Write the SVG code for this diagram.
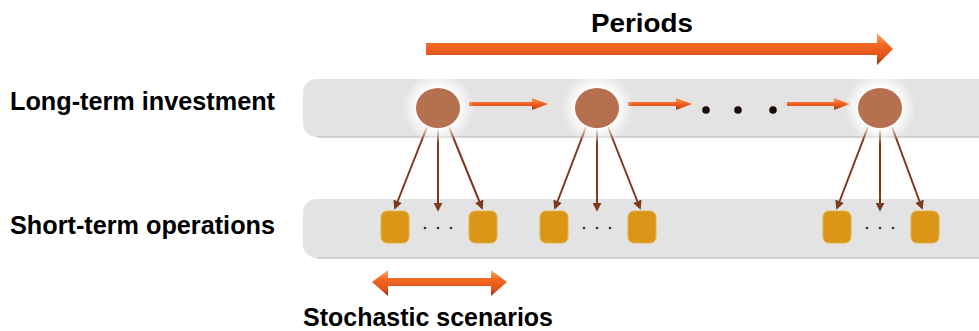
<svg xmlns="http://www.w3.org/2000/svg" width="979" height="331" viewBox="0 0 979 331">
<defs>
<style>
.lbl{font-family:"Liberation Sans",Arial,sans-serif;font-weight:bold;fill:#000}
.band{fill:#e3e3e3}
.bandedge{fill:none;stroke:#c6c6c6;stroke-width:1.5}
.inv{fill:#b5704f}
.op{fill:#d99617;stroke:#e8b14a;stroke-width:1}
.down{stroke:#7b3b1c;stroke-width:2;fill:none;marker-end:url(#mdown)}
.flow{fill:url(#gflow)}
.dot{fill:#1a0a05}
.sdot{fill:#333}
</style>
<marker id="mdown" viewBox="0 0 10 10" refX="8" refY="5" markerWidth="4.5" markerHeight="4.5" orient="auto" markerUnits="strokeWidth">
<path d="M0,0 L10,5 L0,10 z" fill="#7b3b1c"/>
</marker>
<linearGradient id="gbig" x1="0" y1="0" x2="0" y2="1">
<stop offset="0" stop-color="#ffb070"/>
<stop offset="0.35" stop-color="#f26a22"/>
<stop offset="0.75" stop-color="#e0521a"/>
<stop offset="1" stop-color="#8a2e08"/>
</linearGradient>
<linearGradient id="gflow" x1="0" y1="0" x2="0" y2="1">
<stop offset="0" stop-color="#ff9a5a"/>
<stop offset="0.5" stop-color="#f0601e"/>
<stop offset="1" stop-color="#b23a0c"/>
</linearGradient>
<radialGradient id="glow">
<stop offset="0.55" stop-color="#ffffff" stop-opacity="1"/>
<stop offset="1" stop-color="#ffffff" stop-opacity="0"/>
</radialGradient>
</defs>

<g id="labels">
<text class="lbl" x="10" y="110" font-size="25" textLength="265" lengthAdjust="spacingAndGlyphs">Long-term investment</text>
<text class="lbl" x="10" y="234" font-size="25" textLength="265" lengthAdjust="spacingAndGlyphs">Short-term operations</text>
</g>

<g id="periods">
<text class="lbl" x="591" y="32" font-size="26" textLength="102" lengthAdjust="spacingAndGlyphs">Periods</text>
<path d="M426,43 L877,43 L877,33 L893,49 L877,65 L877,55 L426,55 z" fill="url(#gbig)"/>
</g>

<g id="band-long">
<rect class="band" x="303" y="79" width="720" height="58" rx="14"/>
<path class="bandedge" d="M317,137 L979,137"/>
</g>
<g id="band-short">
<rect class="band" x="303" y="199" width="720" height="59" rx="14"/>
<path class="bandedge" d="M317,258 L979,258"/>
</g>

<g id="connectors">
<path class="flow" d="M469,102 L532,102 L532,98 L548,104 L532,110 L532,106 L469,106 z"/>
<path class="flow" d="M628,102 L676,102 L676,98 L692,104 L676,110 L676,106 L628,106 z"/>
<path class="flow" d="M787,102 L834,102 L834,98 L850,104 L834,110 L834,106 L787,106 z"/>

<path class="down" d="M427,127 L395,208"/>
<path class="down" d="M438,128 L438,210"/>
<path class="down" d="M449,127 L482,208"/>

<path class="down" d="M586,127 L555,208"/>
<path class="down" d="M597,128 L597,210"/>
<path class="down" d="M608,127 L640,208"/>

<path class="down" d="M868,127 L837,208"/>
<path class="down" d="M880,128 L880,210"/>
<path class="down" d="M892,127 L922,208"/>
</g>

<g id="inv1">
<circle cx="438" cy="108" r="36" fill="url(#glow)"/>
<ellipse class="inv" cx="438" cy="108" rx="22" ry="20"/>
</g>
<g id="inv2">
<circle cx="597" cy="108" r="36" fill="url(#glow)"/>
<ellipse class="inv" cx="597" cy="108" rx="22" ry="20"/>
</g>
<g id="inv-dots">
<circle class="dot" cx="706" cy="110" r="3.8"/>
<circle class="dot" cx="738" cy="110" r="3.8"/>
<circle class="dot" cx="773" cy="110" r="3.8"/>
</g>
<g id="inv3">
<circle cx="880" cy="108" r="36" fill="url(#glow)"/>
<ellipse class="inv" cx="880" cy="108" rx="22" ry="20"/>
</g>

<g id="ops1">
<rect class="op" x="381" y="211" width="28" height="32" rx="6"/>
<circle class="sdot" cx="425" cy="228" r="1.3"/>
<circle class="sdot" cx="438" cy="228" r="1.3"/>
<circle class="sdot" cx="451" cy="228" r="1.3"/>
<rect class="op" x="469" y="211" width="28" height="32" rx="6"/>
</g>
<g id="ops2">
<rect class="op" x="540" y="211" width="28" height="32" rx="6"/>
<circle class="sdot" cx="584" cy="228" r="1.3"/>
<circle class="sdot" cx="597" cy="228" r="1.3"/>
<circle class="sdot" cx="610" cy="228" r="1.3"/>
<rect class="op" x="628" y="211" width="28" height="32" rx="6"/>
</g>
<g id="ops3">
<rect class="op" x="823" y="211" width="28" height="32" rx="6"/>
<circle class="sdot" cx="867" cy="228" r="1.3"/>
<circle class="sdot" cx="880" cy="228" r="1.3"/>
<circle class="sdot" cx="893" cy="228" r="1.3"/>
<rect class="op" x="911" y="211" width="28" height="32" rx="6"/>
</g>

<g id="scenarios">
<path d="M372,282 L388,270 L388,278 L491,278 L491,270 L507,282 L491,296 L491,286 L388,286 L388,296 z" fill="url(#gbig)"/>
<text class="lbl" x="303" y="326" font-size="25" textLength="250" lengthAdjust="spacingAndGlyphs">Stochastic scenarios</text>
</g>
</svg>
